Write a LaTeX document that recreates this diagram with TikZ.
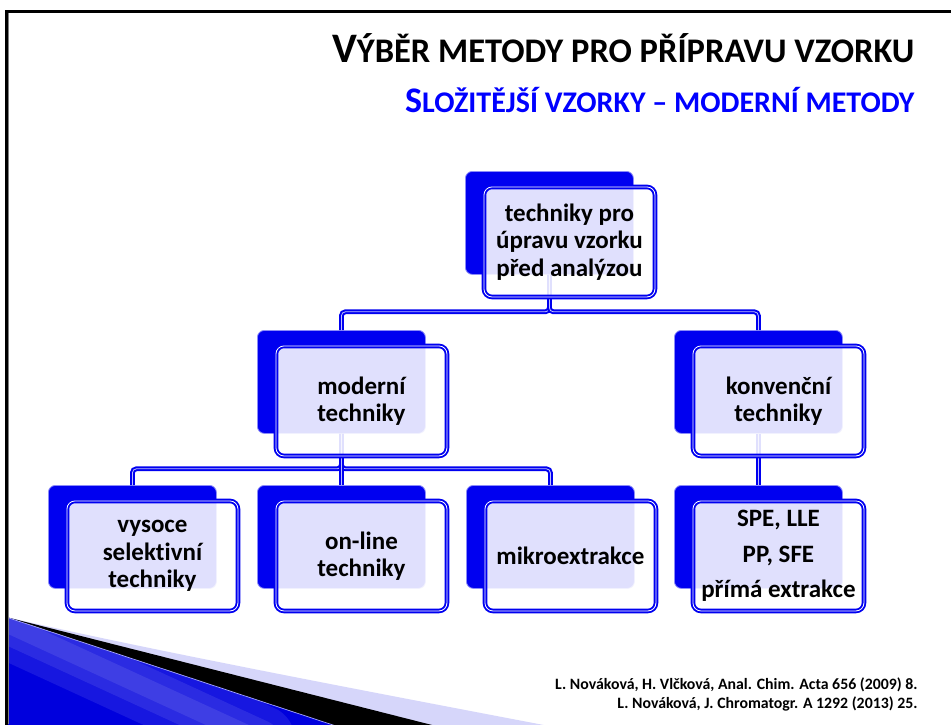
\documentclass[tikz,border=0pt]{standalone}
\usepackage{fontspec}
\setmainfont{Carlito}[Ligatures=NoCommon]
\usetikzlibrary{positioning}
\definecolor{smblue}{RGB}{0,0,240}
\definecolor{smlav}{RGB}{214,214,250}
\tikzset{
  backbox/.style={draw=smblue!45, line width=0.8pt, fill=smblue, rounded corners=7pt,
    minimum width=168pt, minimum height=103pt, inner sep=0pt, anchor=north west},
  frontbox/.style={draw=smblue, line width=1.9pt, double=white, double distance=0.8pt,
    fill=white, fill opacity=0.88, text opacity=1, rounded corners=8pt,
    minimum width=171pt, minimum height=110pt, inner sep=2pt, align=center,
    font=\bfseries\fontsize{25}{27.5}\selectfont},
  conn/.style={draw=smblue, line width=2pt, double=smblue!25, double distance=0.8pt, rounded corners=4pt},
  glow/.style={white, opacity=0.09, line cap=round}
}
\begin{document}
\begin{tikzpicture}[x=1pt,y=-1pt]
\useasboundingbox (0,0) rectangle (951,724);
\fill[white] (0,0) rectangle (951,724);
% corner wedge
\fill[smlav] (6,617) .. controls (150,650) and (350,688) .. (549,726) -- (6,726) -- cycle;
\fill[black] (6,617) -- (436,726) -- (6,726) -- cycle;
\begin{scope}
  \clip (6,617) -- (336,726) -- (6,726) -- cycle;
  \fill[smblue!92!black] (6,617) -- (336,726) -- (6,726) -- cycle;
  \draw[glow, line width=70pt] (10,625) -- (260,740);
  \draw[glow, line width=40pt] (10,625) -- (260,740);
  \draw[glow, line width=18pt] (10,625) -- (260,740);
\end{scope}
\draw[smblue!35, line width=0.7pt] (6,617) -- (336,726);
% frame
\draw[line width=3pt] (955,11) -- (6,11) -- (6,728);
\draw[gray, line width=0.8pt] (8.2,12.5) -- (8.2,724);
% titles
\node[anchor=base east, font=\bfseries] (title) at (918,62)
  {{\fontsize{42}{42}\selectfont V}{\fontsize{34.5}{34.5}\selectfont ÝBĚR METODY PRO PŘÍPRAVU VZORKU}};
\node[anchor=base east, font=\bfseries, text=blue] (subtitle) at (918,112)
  {{\fontsize{36}{36}\selectfont S}{\fontsize{30}{30}\selectfont LOŽITĚJŠÍ VZORKY – MODERNÍ METODY}};
% back shapes
\node[backbox] (topB) at (465,171) {};
\node[backbox] (modB) at (257,330) {};
\node[backbox] (konB) at (674,330) {};
\node[backbox] (vysB) at (48,485) {};
\node[backbox] (onlB) at (257,485) {};
\node[backbox] (mikB) at (466,485) {};
\node[backbox] (speB) at (674,485) {};
% connectors
\draw[conn] (topB.south) -- ++(0,37) -| (modB.north);
\draw[conn] (topB.south) -- ++(0,37) -| (konB.north);
\draw[conn] (modB.south) -- ++(0,35) -| (vysB.north);
\draw[conn] (modB.south) -- ++(0,35) -| (mikB.north);
\draw[conn] (modB.south) -- (onlB.north);
\draw[conn] (konB.south) -- (speB.north);
% front shapes
\node[frontbox, below right=15pt and 18pt of topB.north west] (topF) {techniky pro\\úpravu vzorku\\před analýzou};
\node[frontbox, below right=15pt and 18pt of modB.north west] (modF) {moderní\\techniky};
\node[frontbox, below right=15pt and 18pt of konB.north west] (konF) {konvenční\\techniky};
\node[frontbox, below right=15pt and 18pt of vysB.north west] (vysF) {vysoce\\selektivní\\techniky};
\node[frontbox, below right=15pt and 18pt of onlB.north west] (onlF) {on-line\\techniky};
\node[frontbox, below right=15pt and 18pt of mikB.north west] (mikF) {mikroextrakce};
\node[frontbox, below right=15pt and 18pt of speB.north west, font=\bfseries\fontsize{25}{35.5}\selectfont] (speF) {SPE, LLE\\PP, SFE\\přímá extrakce};
% references
\node[anchor=base east, font=\bfseries\fontsize{15.8}{19}\selectfont] (refA) at (921,689) {L. Nováková, H. Vlčková, Anal. Chim. Acta 656 (2009) 8.};
\node[anchor=base east, font=\bfseries\fontsize{15.8}{19}\selectfont] (refB) at (921,708) {L. Nováková, J. Chromatogr. A 1292 (2013) 25.};
\end{tikzpicture}
\end{document}
